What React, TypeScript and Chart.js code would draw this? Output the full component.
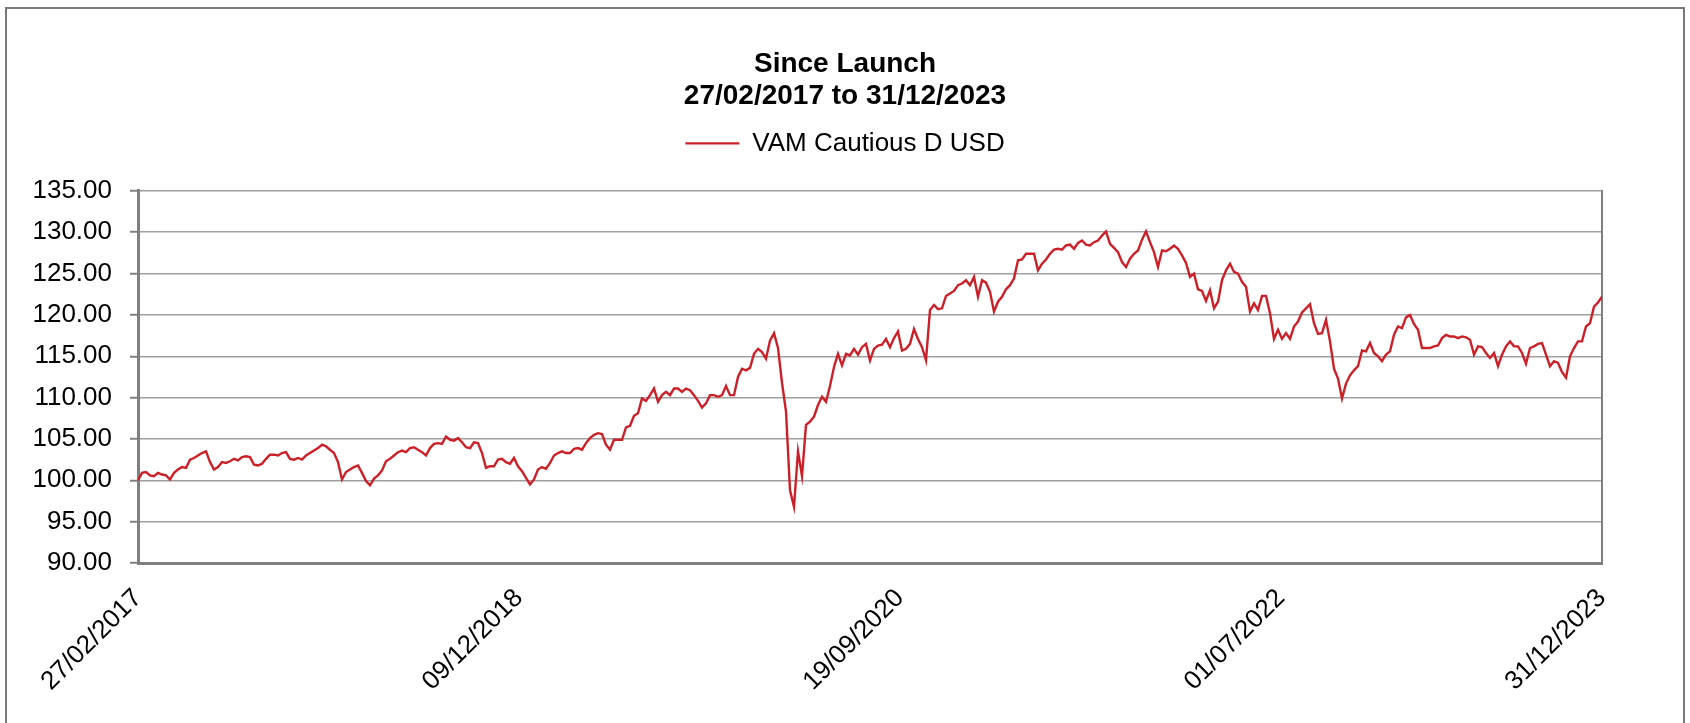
import React, { useEffect, useRef } from "react";
import { Chart, registerables } from "chart.js";

Chart.register(...registerables);

// ---------- data ----------
const chartTitle = ["Since Launch", "27/02/2017 to 31/12/2023"];
const seriesName = "VAM Cautious D USD";
const startDate = "27/02/2017";
const endDate = "31/12/2023";
const xTickLabels = ["27/02/2017", "09/12/2018", "19/09/2020", "01/07/2022", "31/12/2023"];
const yTickValues = [90, 95, 100, 105, 110, 115, 120, 125, 130, 135];

// NAV values, evenly spaced in time from startDate to endDate
const navValues = [
  100.0, 100.9, 101.0, 100.6, 100.5, 100.9, 100.7, 100.6, 100.1, 100.9,
  101.3, 101.6, 101.5, 102.5, 102.7, 103.0, 103.3, 103.5, 102.2, 101.3,
  101.6, 102.2, 102.1, 102.3, 102.6, 102.4, 102.8, 102.9, 102.8, 101.9,
  101.8, 102.0, 102.6, 103.1, 103.1, 103.0, 103.3, 103.4, 102.6, 102.5,
  102.7, 102.5, 103.0, 103.3, 103.6, 103.9, 104.3, 104.1, 103.7, 103.3,
  102.2, 100.1, 101.0, 101.3, 101.6, 101.8, 100.9, 99.9, 99.4, 100.2,
  100.6, 101.2, 102.3, 102.6, 103.0, 103.4, 103.6, 103.4, 103.9, 104.0,
  103.7, 103.4, 103.0, 103.9, 104.4, 104.5,
  104.4, 105.3, 104.9, 104.8, 105.1, 104.6, 104.0, 103.9, 104.6, 104.5,
  103.3, 101.5, 101.7, 101.7, 102.5, 102.6, 102.2, 102.0, 102.7, 101.7,
  101.1, 100.3, 99.5, 100.1, 101.3, 101.6, 101.4, 102.1, 103.0, 103.3,
  103.5, 103.3, 103.3, 103.8, 103.9, 103.7, 104.5, 105.1, 105.5, 105.7,
  105.6, 104.3, 103.7, 104.9, 104.9, 104.9, 106.4, 106.6, 107.8, 108.1,
  109.9, 109.6, 110.3, 111.1, 109.5, 110.3, 110.7, 110.3, 111.1, 111.1,
  110.7, 111.1, 110.9, 110.3, 109.6, 108.8, 109.3, 110.3, 110.3, 110.1,
  110.3, 111.4, 110.3, 110.3, 112.5, 113.5, 113.3, 113.6, 115.3, 115.9,
  115.5, 114.7, 116.9, 117.8, 116.0, 111.8, 108.3, 98.8, 96.8, 103.5,
  100.5, 106.7, 107.1, 107.7, 109.1, 110.1, 109.5, 111.4, 113.7, 115.3,
  113.9, 115.3, 115.1, 115.9, 115.2, 116.1, 116.5, 114.5, 115.9, 116.3,
  116.4, 117.1, 116.1, 117.2, 118.0, 115.7, 115.9, 116.5, 118.3, 117.1,
  116.1, 114.5, 120.6, 121.2, 120.7, 120.8, 122.3, 122.6, 122.9, 123.6,
  123.8, 124.2, 123.6, 124.6, 122.2, 124.2, 123.9, 122.8, 120.4, 121.6,
  122.2, 123.1, 123.6, 124.4, 126.6,
  126.7, 127.4, 127.4, 127.4, 125.4, 126.2, 126.7, 127.4, 127.9, 128.0,
  127.9, 128.4, 128.5, 128.0, 128.7, 129.0, 128.5, 128.4, 128.8, 129.0,
  129.6, 130.1, 128.6, 128.1, 127.6, 126.4, 125.8, 126.8, 127.4, 127.8,
  129.1, 130.1, 128.8, 127.6, 125.8, 127.8, 127.7, 128.0, 128.4, 128.0,
  127.2, 126.3, 124.6, 125.0, 123.1, 122.9, 121.7, 123.0, 120.8, 121.6,
  124.2, 125.4, 126.2, 125.2, 125.0, 124.0, 123.4, 120.4, 121.4, 120.6,
  122.3, 122.3, 120.2, 117.1, 118.2, 117.1, 117.8, 117.1, 118.6, 119.2,
  120.3, 120.8, 121.3, 119.0, 117.7, 117.8, 119.4, 116.8, 113.5, 112.3,
  109.9, 111.7, 112.7, 113.3, 113.8, 115.7, 115.6, 116.6, 115.4, 115.0,
  114.4, 115.2, 115.6, 117.6, 118.6, 118.4, 119.7, 120.0, 118.9, 118.2,
  116.0, 116.0, 116.0, 116.2, 116.3, 117.2, 117.6, 117.4, 117.4, 117.2,
  117.4, 117.3, 117.0, 115.2, 116.2, 116.1, 115.4, 114.8, 115.4, 113.8,
  115.2, 116.2, 116.8, 116.2, 116.2, 115.4, 114.1, 116.0, 116.2, 116.5,
  116.6, 115.2, 113.8, 114.4, 114.2, 113.1, 112.4, 115.0, 116.0, 116.8,
  116.8, 118.6, 119.0, 121.0, 121.5, 122.2,
];

// ---------- styles ----------
const FONT = "'Liberation Sans', Arial, Helvetica, sans-serif";
const LINE_COLOR = "#cc2028";
const AXIS_COLOR = "#808080";
const GRID_COLOR = "#a0a0a0";
const LEGEND_GAP = 24.5;

const toDay = (s: string) => {
  const [d, m, y] = s.split("/").map(Number);
  return Date.UTC(y, m - 1, d) / 86400000;
};

const legendSpacer = {
  id: "legendSpacer",
  beforeLayout(chart: any) {
    const lg = chart.legend;
    if (lg && !lg.__spaced) {
      const orig = lg.fit;
      lg.fit = function () {
        orig.call(this);
        this.height += LEGEND_GAP;
      };
      lg.__spaced = true;
    }
  },
};

export default function App() {
  const canvasRef = useRef<HTMLCanvasElement | null>(null);

  useEffect(() => {
    if (!canvasRef.current) return;
    const day0 = toDay(startDate);
    const spanDays = toDay(endDate) - day0;
    const points = navValues.map((v, i) => ({
      x: (i * spanDays) / (navValues.length - 1),
      y: v,
    }));
    const tickDays = xTickLabels.map((s) => toDay(s) - day0);

    const chart = new Chart(canvasRef.current, {
      type: "line",
      data: {
        datasets: [
          {
            label: seriesName,
            data: points,
            borderColor: LINE_COLOR,
            backgroundColor: LINE_COLOR,
            borderWidth: 2.4,
            pointRadius: 0,
            pointHoverRadius: 0,
            tension: 0,
            fill: false,
            yAxisID: "y",
          },
        ],
      },
      options: {
        animation: false,
        responsive: false,
        maintainAspectRatio: false,
        events: [],
        layout: { padding: { left: 0, right: 0, top: 0, bottom: 0 } },
        plugins: {
          title: {
            display: true,
            text: chartTitle,
            color: "#000000",
            font: { family: FONT, size: 28, weight: "bold", lineHeight: 1.15 },
            padding: { top: 48, bottom: 8 },
          },
          legend: {
            display: true,
            position: "top",
            labels: {
              usePointStyle: true,
              pointStyleWidth: 54,
              padding: 10,
              color: "#000000",
              font: { family: FONT, size: 26 },
              generateLabels: () => [
                {
                  text: seriesName,
                  fillStyle: LINE_COLOR,
                  strokeStyle: LINE_COLOR,
                  lineWidth: 2.4,
                  pointStyle: "line",
                  hidden: false,
                  datasetIndex: 0,
                  fontColor: "#000000",
                } as any,
              ],
            },
          },
          tooltip: { enabled: false },
        },
        scales: {
          x: {
            type: "linear",
            min: 0,
            max: spanDays,
            afterBuildTicks: (s: any) => {
              s.ticks = tickDays.map((v) => ({ value: v }));
            },
            afterFit: (s: any) => {
              s.height = 160;
            },
            grid: { display: false, drawTicks: false },
            border: { display: true, color: AXIS_COLOR, width: 3 },
            ticks: {
              autoSkip: false,
              minRotation: 45,
              maxRotation: 45,
              padding: 20,
              color: "#000000",
              font: { family: FONT, size: 26 },
              callback: (value: any) => {
                const idx = tickDays.findIndex((d) => Math.abs(d - Number(value)) < 0.5);
                return idx >= 0 ? xTickLabels[idx] : "";
              },
            },
          },
          y: {
            type: "linear",
            position: "left",
            min: 90,
            max: 135,
            afterBuildTicks: (s: any) => {
              s.ticks = yTickValues.map((v) => ({ value: v }));
            },
            afterFit: (s: any) => {
              s.width = 138;
            },
            grid: {
              color: GRID_COLOR,
              lineWidth: 1.5,
              drawTicks: true,
              tickLength: 8,
              tickColor: AXIS_COLOR,
              tickWidth: 2,
            },
            border: { display: true, color: AXIS_COLOR, width: 3 },
            ticks: {
              padding: 18,
              color: "#000000",
              font: { family: FONT, size: 26 },
              callback: (value: any) => Number(value).toFixed(2),
            },
          },
          y2: {
            type: "linear",
            position: "right",
            display: true,
            grid: { display: false, drawTicks: false },
            ticks: { display: false },
            border: { display: true, color: AXIS_COLOR, width: 2 },
            afterFit: (s: any) => {
              s.width = 88;
            },
          },
        },
      } as any,
      plugins: [legendSpacer],
    });

    return () => chart.destroy();
  }, []);

  return (
    <div
      style={{
        position: "fixed",
        left: 0,
        top: 0,
        width: 1690,
        height: 723,
        background: "#ffffff",
        overflow: "hidden",
      }}
    >
      <div
        style={{
          position: "absolute",
          left: 5,
          top: 7,
          width: 1676,
          height: 800,
          border: "2px solid #7a7a7a",
          boxSizing: "content-box",
        }}
      />
      <canvas
        ref={canvasRef}
        width={1690}
        height={723}
        style={{ position: "absolute", left: 0, top: 0, width: 1690, height: 723 }}
      />
    </div>
  );
}
